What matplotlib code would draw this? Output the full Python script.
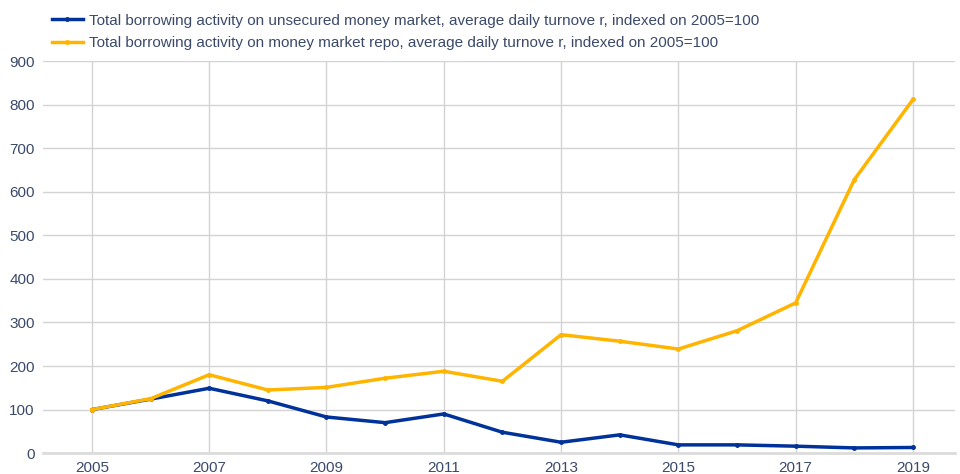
import numpy as np
from matplotlib import pyplot as plt

plt.rcParams['font.family'] = ['Liberation Sans', 'DejaVu Sans']

years = list(range(2005, 2020))
unsecured = [100, 124, 149, 120, 83, 70, 90, 48, 25, 42, 19, 19, 16, 12, 13]
repo = [100, 125, 180, 145, 151, 172, 188, 165, 272, 257, 239, 281, 345, 628, 812]

label_unsec = 'Total borrowing activity on unsecured money market, average daily turnove r, indexed on 2005=100'
label_repo = 'Total borrowing activity on money market repo, average daily turnove r, indexed on 2005=100'

text_col = '#3b4a6b'
grid_col = '#d3d3d3'

fig = plt.figure(figsize=(9.6, 4.74), dpi=100)
ax = fig.add_axes([0.045, 0.044, 0.95, 0.827])

ax.plot(years, unsecured, color='#003299', lw=2.5, marker='o', ms=2.5, label=label_unsec, zorder=3)
ax.plot(years, repo, color='#ffb400', lw=2.5, marker='o', ms=2.5, label=label_repo, zorder=3)

ax.set_xlim(2004.17, 2019.72)
ax.set_ylim(0, 900)
ax.set_yticks(np.arange(0, 901, 100))
ax.set_xticks(years[::2])
ax.grid(True, color=grid_col, lw=1)
ax.set_axisbelow(True)
for s in ['top', 'right', 'left']:
    ax.spines[s].set_visible(False)
ax.spines['bottom'].set_color('#dcdcdc')
ax.spines['bottom'].set_linewidth(2)
ax.tick_params(length=0, labelsize=11, labelcolor=text_col, pad=6)

fig.legend(loc='upper left', bbox_to_anchor=(0.04, 1.0), frameon=False,
           fontsize=11, labelcolor=text_col, handlelength=2.0, handletextpad=0.4,
           labelspacing=0.55)

plt.savefig('out.png')
